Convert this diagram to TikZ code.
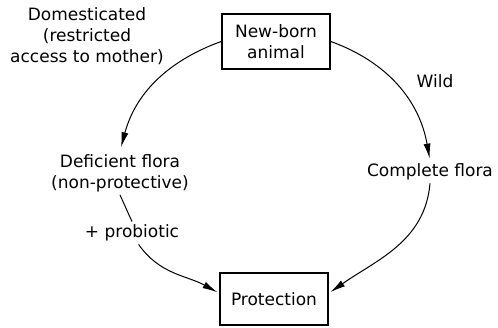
\documentclass[tikz,border=0pt]{standalone}
\usepackage{fontspec}
\setmainfont{DejaVu Sans}
\usetikzlibrary{arrows.meta}
\begin{document}
\begin{tikzpicture}[x=1pt, y=1pt,
    font=\fontsize{17}{21}\selectfont,
    arr/.style={-{Latex[length=15pt,width=7pt]}, line width=1pt},
    box/.style={draw, line width=1.8pt, minimum width=108pt, align=center, inner sep=2pt},
    lbl/.style={align=center, inner sep=3pt}]
\useasboundingbox (0,0) rectangle (498,-327);
    \node[box, minimum height=55pt] (newborn) at (276,-41.5) {New-born\\animal};
    \node[box, minimum height=52pt] (prot) at (274,-299) {Protection};
    \node[lbl] (dom) at (87,-36) {Domesticated\\(restricted\\access to mother)};
    \node[lbl] (wild) at (435,-81) {Wild};
    \node[lbl] (def) at (120,-173) {Deficient flora\\(non-protective)};
    \node[lbl] (prob) at (132,-233) {+ probiotic};
    \node[lbl] (cf) at (430,-172) {Complete flora};

\draw[arr, shorten >=4pt] (newborn.west) to[out=200, in=75] (def.north);
\draw[arr, shorten >=2pt] (newborn.east) to[out=-20, in=100] (cf.north);
\draw[line width=1pt] (def.south) -- (prob.north);
\draw[arr, shorten >=2pt] (prob.-60) to[out=-55, in=151] (prot.174);
\draw[arr, shorten >=2pt] (cf.south) to[out=-95, in=35] (prot.6);
\end{tikzpicture}
\end{document}
